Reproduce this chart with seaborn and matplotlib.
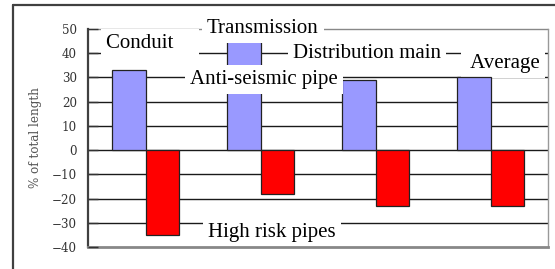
import matplotlib
matplotlib.use("Agg")
import matplotlib.pyplot as plt
from matplotlib.lines import Line2D
import seaborn as sns
import pandas as pd

# ---- data ----
categories = ["Conduit", "Transmission", "Distribution main", "Average"]
series_names = ["Anti-seismic pipe", "High risk pipes"]
anti_seismic = [33, 47, 29, 30]
high_risk = [-35, -18, -23, -23]
y_ticks = [-40, -30, -20, -10, 0, 10, 20, 30, 40, 50]
y_label = "% of total length"

rows = []
for c, a, h in zip(categories, anti_seismic, high_risk):
    rows.append({"cat": c, "series": series_names[0], "val": a})
    rows.append({"cat": c, "series": series_names[1], "val": h})
df = pd.DataFrame(rows)

sns.set_style("white")
plt.rcParams["font.family"] = ["DejaVu Serif"]
W, H = 555, 269
fig = plt.figure(figsize=(W / 100, H / 100), dpi=100)
ax = fig.add_axes([88 / W, 1 - 247 / H, (548 - 88) / W, (247 - 29) / H])

palette = {series_names[0]: "#9999FF", series_names[1]: "#FF0000"}
sns.barplot(data=df, x="cat", y="val", hue="series", order=categories,
            hue_order=series_names, palette=palette, width=0.574,
            edgecolor="#222222", linewidth=0.9, saturation=1, ax=ax,
            legend=False)

ax.set_ylim(y_ticks[0], y_ticks[-1])
ax.set_xlim(-0.5, len(categories) - 0.5)
ax.set_yticks(y_ticks)
ax.set_xticks([])
ax.set_xlabel("")
ax.set_ylabel(y_label, fontfamily="DejaVu Serif", fontsize=8.6, color="#555555")
ax.yaxis.set_label_coords(-0.1, 0.5)

for t in y_ticks[1:-1]:
    ax.axhline(t, color="#1a1a1a", lw=1.0, zorder=0.5)
ax.axhline(y_ticks[-1], color="#888888", lw=1.0, zorder=0.5, clip_on=False)

ax.set_axisbelow(False)
ax.tick_params(axis="y", direction="in", length=7.2, width=1.0, color="#333333",
               pad=8, labelsize=8.6, labelcolor="#333333", left=True)

ax.spines["top"].set_visible(False)
ax.spines["left"].set_color("#404040")
ax.spines["left"].set_linewidth(1.6)
ax.spines["bottom"].set_color("#888888")
ax.spines["bottom"].set_linewidth(2.0)
ax.spines["right"].set_color("#999999")
ax.spines["right"].set_linewidth(1.0)

# ---- annotation labels (pixel positions converted to data) ----
def px2data(px, py):
    return (px - 88) / 115 - 0.5, (150 - py) / (218 / 90)

font = dict(fontfamily="Liberation Serif", fontsize=15, color="black")
box = dict(boxstyle="square,pad=0.24", fc="white", ec="none")
labels = [
    (categories[0] + "    ", 106, 48.3, 2),
    (categories[1], 207, 32.7, 2),
    (categories[2], 293, 58.0, 2),
    (series_names[0], 190, 84.0, 2),
    (" " + categories[3], 466, 68.3, 0.9),
    (series_names[1], 208, 237.0, 2),
]
for txt, px, py, z in labels:
    xd, yd = px2data(px, py)
    ax.text(xd, yd, txt, ha="left", va="baseline", bbox=box, zorder=z, **font)

# outer frame (left and top edges)
fig.add_artist(Line2D([13 / W, 13 / W], [0, 1 - 5 / H], color="#404040", lw=1.6))
fig.add_artist(Line2D([13 / W, 1], [1 - 5 / H, 1 - 5 / H], color="#404040", lw=1.6))

fig.savefig("out.png", dpi=100)
